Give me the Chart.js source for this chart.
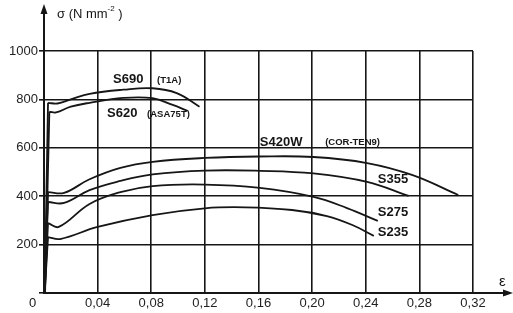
<!DOCTYPE html>
<html>
<head>
<meta charset="utf-8">
<script src="https://cdn.jsdelivr.net/npm/chart.js@4/dist/chart.umd.min.js"></script>
<style>
  html, body { margin: 0; padding: 0; background: #fff; }
</style>
</head>
<body>
<canvas id="chart" width="513" height="313"></canvas>
<script>
// strain (eps) / stress (N/mm2) pairs
const xTicks = [0, 0.04, 0.08, 0.12, 0.16, 0.20, 0.24, 0.28, 0.32]
const yTicks = [0, 200, 400, 600, 800, 1000]

// first pair is the foot of the elastic line, the rest is the plastic curve
const s690 = [[0.0005, 0], [0.003, 786], [0.010, 783], [0.020, 800], [0.034, 823], [0.059, 840], [0.081, 846], [0.099, 826], [0.116, 770]]
const s620 = [[0.0008, 0], [0.004, 749], [0.009, 746], [0.020, 770], [0.034, 786], [0.059, 806], [0.081, 805], [0.096, 777], [0.107, 753]]
const s420w = [[0.0005, 0], [0.003, 417], [0.015, 414], [0.034, 470], [0.057, 517], [0.081, 542], [0.120, 558], [0.160, 564], [0.201, 562], [0.241, 537], [0.275, 487], [0.309, 405]]
const s355 = [[0.0005, 0], [0.003, 376], [0.015, 372], [0.034, 425], [0.057, 463], [0.081, 490], [0.120, 506], [0.161, 505], [0.201, 494], [0.241, 459], [0.272, 401]]
const s275 = [[0.0005, 0], [0.003, 289], [0.011, 273], [0.034, 368], [0.057, 417], [0.081, 442], [0.120, 448], [0.161, 434], [0.201, 397], [0.226, 351], [0.249, 298]]
const s235 = [[0.0005, 0], [0.003, 231], [0.012, 223], [0.040, 273], [0.081, 322], [0.120, 350], [0.150, 354], [0.185, 343], [0.211, 318], [0.230, 281], [0.246, 236]]

const seriesNames = ['S690', 'S620', 'S420W', 'S355', 'S275', 'S235']
const seriesNotes = ['(T1A)', '(ASA75T)', '(COR-TEN9)', '', '', '']
const seriesData = [s690, s620, s420w, s355, s275, s235]

const INK = '#161616'

// label anchors in data coords (left edge of text, vertical middle)
const labelAnchors = [
  { name: [0.0515, 884], note: [0.0843, 880] },
  { name: [0.047, 744], note: [0.0769, 740] },
  { name: [0.161, 624], note: [0.2097, 624] },
  { name: [0.249, 471] },
  { name: [0.249, 335] },
  { name: [0.249, 252] }
]

const decorations = {
  id: 'decorations',
  afterDraw(chart) {
    const { ctx, chartArea: a, scales: { x, y } } = chart
    ctx.save()
    ctx.strokeStyle = INK
    ctx.fillStyle = INK
    ctx.lineWidth = 2

    // y axis up to the arrow
    ctx.beginPath()
    ctx.moveTo(a.left, a.top)
    ctx.lineTo(a.left, 10)
    ctx.stroke()
    ctx.beginPath()
    ctx.moveTo(a.left, 4)
    ctx.lineTo(a.left - 3.5, 14)
    ctx.lineTo(a.left + 3.5, 14)
    ctx.closePath()
    ctx.fill()

    // x axis out to the arrow
    ctx.beginPath()
    ctx.moveTo(a.right, a.bottom)
    ctx.lineTo(506, a.bottom)
    ctx.stroke()
    ctx.beginPath()
    ctx.moveTo(513, a.bottom)
    ctx.lineTo(503, a.bottom - 3.5)
    ctx.lineTo(503, a.bottom + 3.5)
    ctx.closePath()
    ctx.fill()

    ctx.textBaseline = 'middle'
    ctx.textAlign = 'left'

    // axis names
    ctx.font = '13px "Liberation Sans", Arial, sans-serif'
    ctx.fillText('σ (N mm', 57, 14)
    let w = ctx.measureText('σ (N mm').width
    ctx.font = '8px "Liberation Sans", Arial, sans-serif'
    ctx.fillText('-2', 57 + w, 9)
    let w2 = ctx.measureText('-2').width
    ctx.font = '13px "Liberation Sans", Arial, sans-serif'
    ctx.fillText(' )', 57 + w + w2, 14)

    ctx.font = '15px "Liberation Sans", Arial, sans-serif'
    ctx.fillText('ε', 499, 282)
    ctx.font = '13px "Liberation Sans", Arial, sans-serif'
    ctx.fillText('0', 29, 303)

    // curve labels
    seriesNames.forEach((name, i) => {
      const anc = labelAnchors[i]
      ctx.font = 'bold 13px "Liberation Sans", Arial, sans-serif'
      ctx.fillText(name, x.getPixelForValue(anc.name[0]), y.getPixelForValue(anc.name[1]))
      if (seriesNotes[i]) {
        ctx.font = 'bold 9.5px "Liberation Sans", Arial, sans-serif'
        ctx.fillText(seriesNotes[i], x.getPixelForValue(anc.note[0]), y.getPixelForValue(anc.note[1]))
      }
    })
    ctx.restore()
  }
}

const lineStyle = { borderColor: INK, borderWidth: 1.8, pointRadius: 0, fill: false }

// elastic part: straight, plastic part: smooth
const elastic = seriesData.map((pts, i) => ({
  ...lineStyle,
  label: seriesNames[i] + ' elastic',
  tension: 0,
  data: pts.slice(0, 2).map(p => ({ x: p[0], y: p[1] }))
}))
const plastic = seriesData.map((pts, i) => ({
  ...lineStyle,
  label: seriesNames[i],
  tension: 0.4,
  data: pts.slice(1).map(p => ({ x: p[0], y: p[1] }))
}))

new Chart(document.getElementById('chart').getContext('2d'), {
  type: 'line',
  data: { datasets: [...elastic, ...plastic] },
  options: {
    responsive: false,
    animation: false,
    layout: { padding: { top: 51, right: 40, left: 0, bottom: 0 } },
    plugins: { legend: { display: false }, tooltip: { enabled: false } },
    scales: {
      x: {
        type: 'linear',
        min: 0,
        max: 0.32,
        afterBuildTicks: s => { s.ticks = xTicks.map(v => ({ value: v })) },
        afterFit: s => { s.height = 20 },
        ticks: {
          color: '#222',
          padding: 3,
          maxRotation: 0,
          font: { family: '"Liberation Sans", Arial, sans-serif', size: 13 },
          callback: v => v === 0 ? '' : v.toFixed(2).replace('.', ',')
        },
        grid: { color: INK, lineWidth: 1.6, drawTicks: false },
        border: { color: INK, width: 2 }
      },
      y: {
        min: 0,
        max: 1000,
        afterBuildTicks: s => { s.ticks = yTicks.map(v => ({ value: v })) },
        afterFit: s => { s.width = 44 },
        ticks: {
          color: '#222',
          padding: 1,
          font: { family: '"Liberation Sans", Arial, sans-serif', size: 13 },
          callback: v => v === 0 ? '' : String(v)
        },
        grid: { color: INK, lineWidth: 1.6, tickLength: 5 },
        border: { color: INK, width: 2 }
      }
    }
  },
  plugins: [decorations]
})
</script>
</body>
</html>
